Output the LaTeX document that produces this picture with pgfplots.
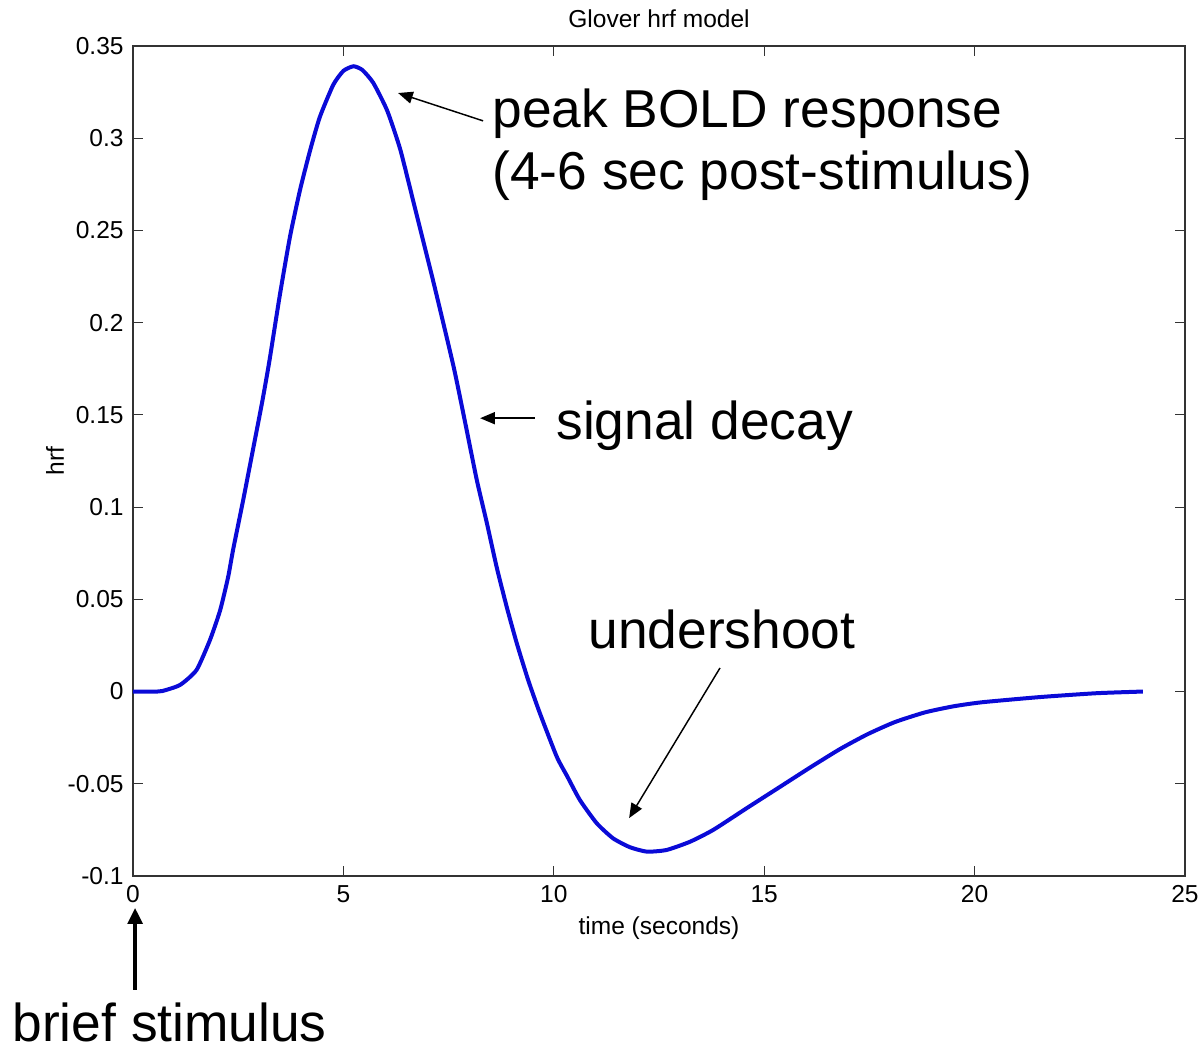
\documentclass[border=0pt]{standalone}
\usepackage{fontspec}
\setmainfont{Liberation Sans}
\usepackage{pgfplots}
\pgfplotsset{compat=1.18}
\usetikzlibrary{arrows.meta}
\definecolor{hrfblue}{RGB}{10,10,215}
\newcommand{\smallfs}{\fontsize{9.2}{11}\selectfont}
\newcommand{\bigfs}{\fontsize{20}{23}\selectfont}
\begin{document}
\begin{tikzpicture}
\begin{axis}[
    scale only axis,
    width=394.5pt,
    height=311.25pt,
    xmin=0, xmax=25,
    ymin=-0.1, ymax=0.35,
    xtick={0,5,10,15,20,25},
    xticklabels={0,5,10,15,20,25},
    ytick={-0.1,-0.05,0,0.05,0.1,0.15,0.2,0.25,0.3,0.35},
    yticklabels={-0.1,-0.05,0,0.05,0.1,0.15,0.2,0.25,0.3,0.35},
    tick align=inside,
    major tick length=3.75pt,
    axis line style={black!80, line width=0.4pt},
    tick style={black!80, line width=0.4pt},
    ticklabel style={font=\smallfs},
    /pgf/number format/assume math mode=true,
    title={Glover hrf model},
    every axis title shift=0pt,
    title style={font=\smallfs, at={(axis description cs:0.5,1.0325)}, anchor=center},
    xlabel={time (seconds)},
    xlabel style={font=\smallfs, at={(axis description cs:0.5,-0.0627)}, anchor=center},
    ylabel={hrf},
    ylabel style={font=\smallfs, at={(axis description cs:-0.0741,0.5)}, anchor=center},
    clip=false,
]
\addplot[hrfblue, line width=1.5pt, smooth, tension=0.35] table {
t     h
0     0
0.5   0
0.7   0.0003
1.12  0.0036
1.51  0.0117
1.83  0.028
2.07  0.044
2.26  0.062
2.38  0.077
2.62  0.104
2.85  0.131
3.07  0.157
3.24  0.179
3.49  0.215
3.73  0.2465
3.97  0.272
4.21  0.2935
4.44  0.3115
4.76  0.329
5.0   0.3365
5.24  0.339
5.45  0.337
5.71  0.330
6.04  0.315
6.35  0.294
6.67  0.265
7.14  0.222
7.62  0.176
7.91  0.144
8.17  0.1147
8.41  0.0913
8.64  0.0677
8.88  0.046
9.12  0.0262
9.39  0.0063
9.67  -0.0118
10.07 -0.0353
10.32 -0.046
10.62 -0.0588
11.02 -0.0714
11.41 -0.0796
11.81 -0.0844
12.21 -0.0868
12.68 -0.0859
13.24 -0.0814
13.79 -0.075
14.58 -0.0633
15.38 -0.0516
16.09 -0.0412
16.8  -0.0312
17.45 -0.0232
18.1  -0.0166
18.82 -0.0113
19.5  -0.0080
20.18 -0.0058
21.55 -0.0030
22.9  -0.0009
24    0
};
\coordinate (bl) at (rel axis cs:0,0);
\coordinate (tr) at (rel axis cs:1,1);
% annotations
\draw[-{Triangle[length=5.5pt,width=4.5pt]}, line width=0.55pt] (axis cs:8.32,0.3094) -- (axis cs:6.30,0.3245);
\node[font=\bigfs, anchor=base west, inner sep=0] at (axis cs:8.53,0.3056) {peak BOLD response};
\node[font=\bigfs, anchor=base west, inner sep=0] at (axis cs:8.53,0.2722) {(4-6 sec post-stimulus)};
\draw[-{Triangle[length=5.5pt,width=4.5pt]}, line width=0.55pt] (axis cs:9.55,0.1482) -- (axis cs:8.25,0.1482);
\node[font=\bigfs, anchor=base west, inner sep=0] at (axis cs:10.05,0.1365) {signal decay};
\draw[-{Triangle[length=5.5pt,width=4.5pt]}, line width=0.55pt] (axis cs:13.95,0.0128) -- (axis cs:11.79,-0.0686);
\node[font=\bigfs, anchor=base west, inner sep=0] at (axis cs:10.81,0.0236) {undershoot};
\draw[-{Triangle[length=6pt,width=5.5pt]}, line width=1.4pt] (axis cs:0.05,-0.1618) -- (axis cs:0.05,-0.1173);
\node[font=\bigfs, anchor=base west, inner sep=0] at (axis cs:-2.875,-0.1895) {brief stimulus};
\end{axis}
\pgfresetboundingbox
\useasboundingbox ([xshift=-49.875pt,yshift=-65.625pt]bl) rectangle ([xshift=5.625pt,yshift=17.25pt]tr);
\end{tikzpicture}
\end{document}
